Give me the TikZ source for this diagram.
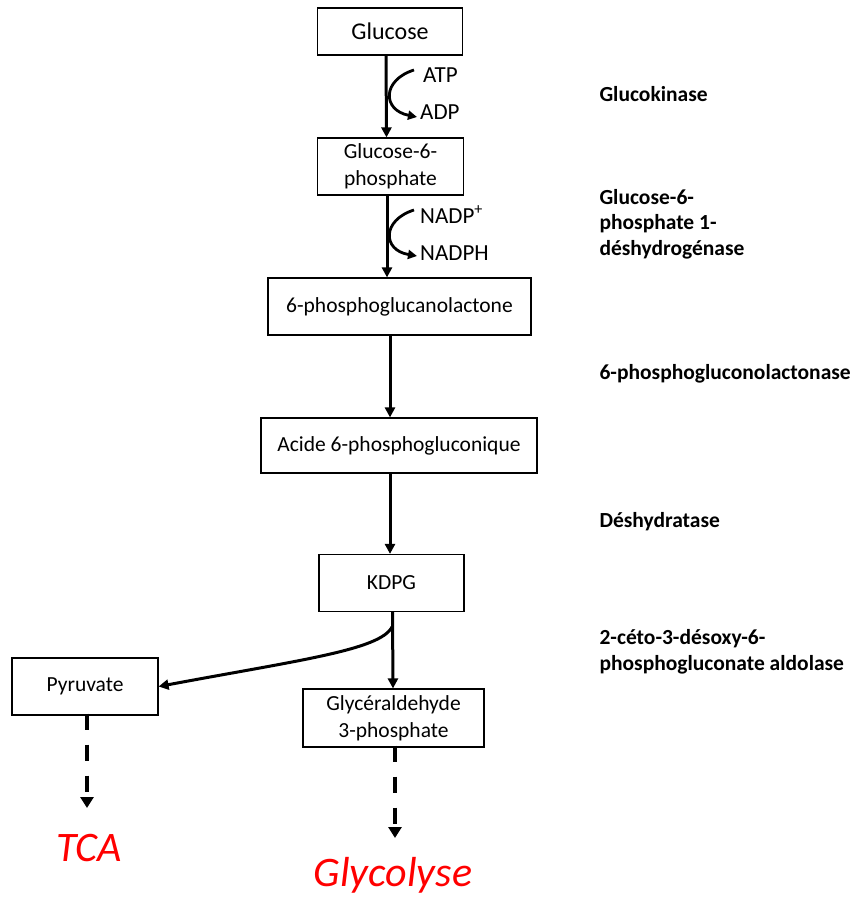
\documentclass[tikz,border=0pt]{standalone}
\usepackage{fontspec}
\setmainfont{Carlito}
\usetikzlibrary{arrows.meta}
\begin{document}
\begin{tikzpicture}[x=1pt,y=-1pt,
  box/.style={draw,line width=1.2pt,inner sep=0pt,align=center,font=\fontsize{21.5}{27}\selectfont},
  arr/.style={line width=3pt,-{Triangle[length=10pt,width=10pt]}},
  darr/.style={line width=3.2pt,dash pattern=on 16pt off 15pt,-{Triangle[length=11pt,width=13pt]}},
  enz/.style={anchor=west,align=left,font=\fontsize{21.5}{25.5}\selectfont\bfseries},
  cof/.style={anchor=west,inner sep=0pt,font=\fontsize{23}{26}\selectfont},
  red/.style={text=red,inner sep=0pt,font=\fontsize{42}{46}\selectfont\itshape}]
\useasboundingbox (0,0) rectangle (857,897);
\node[box,minimum width=145pt,minimum height=47pt,font=\fontsize{24}{28}\selectfont] (glc) at (390,31.5) {Glucose};
\node[box,minimum width=146pt,minimum height=57pt] (g6p) at (390.5,166.5) {Glucose-6-\\phosphate};
\node[box,minimum width=263pt,minimum height=57pt] (pgl) at (399.5,306.5) {6-phosphoglucanolactone};
\node[box,minimum width=276pt,minimum height=55pt] (acide) at (399,445.5) {Acide 6-phosphogluconique};
\node[box,minimum width=145pt,minimum height=57pt] (kdpg) at (391.5,583) {KDPG};
\node[box,minimum width=181pt,minimum height=58pt] (gap) at (393.5,718) {Glycéraldehyde\\3-phosphate};
\node[box,minimum width=146pt,minimum height=57pt] (pyr) at (85,686.5) {Pyruvate};
% cofactors
\node[cof] (atp) at (423,75) {ATP};
\node[cof] (adp) at (420,112) {ADP};
\node[cof] (nadp) at (420,215) {NADP\textsuperscript{+}};
\node[cof] (nadph) at (420,253) {NADPH};
% enzymes
\node[enz] (e1) at (596,94) {Glucokinase};
\node[enz] (e2) at (596,224) {Glucose-6-\\phosphate 1-\\déshydrogénase};
\node[enz] (e3) at (596,374) {6-phosphogluconolactonase};
\node[enz] (e4) at (596,522) {Déshydratase};
\node[enz] (e5) at (596,652) {2-céto-3-désoxy-6-\\phosphogluconate aldolase};
% end products
\node[red] (tca) at (89,848) {TCA};
\node[red] (glyco) at (393,875) {Glycolyse};
\coordinate (tcatip) at (87,808);
\coordinate (glytip) at (395,838);
% main arrows
\draw[arr] ([xshift=-4pt]glc.south) -- ([xshift=-4pt]g6p.north);
\draw[arr] ([xshift=-3.5pt]g6p.south) -- ([xshift=-12.5pt]pgl.north);
\draw[arr] ([xshift=-9.5pt]pgl.south) -- ([xshift=-9pt]acide.north);
\draw[arr] ([xshift=-9pt]acide.south) -- ([xshift=-1.5pt]kdpg.north);
\draw[arr] ([xshift=1pt]kdpg.south) -- ([xshift=-0.5pt]gap.north);
\coordinate (br) at (392,627);
\draw[arr] (br) .. controls (380,650) and (300,660) .. (pyr.east);
\draw[darr] ([xshift=2pt,yshift=2pt]pyr.south) -- (tcatip);
\draw[darr] ([xshift=1.5pt,yshift=2pt]gap.south) -- (glytip);
% cofactor curves
\coordinate (c1) at (414,70);
\coordinate (c2) at (417,117);
\draw[line width=2.8pt,-{Triangle[length=9pt,width=9pt]}] (c1) .. controls (382,80) and (382,110) .. (c2);
\coordinate (c3) at (414,210);
\coordinate (c4) at (417,256);
\draw[line width=2.8pt,-{Triangle[length=9pt,width=9pt]}] (c3) .. controls (382,220) and (382,250) .. (c4);
\end{tikzpicture}
\end{document}
